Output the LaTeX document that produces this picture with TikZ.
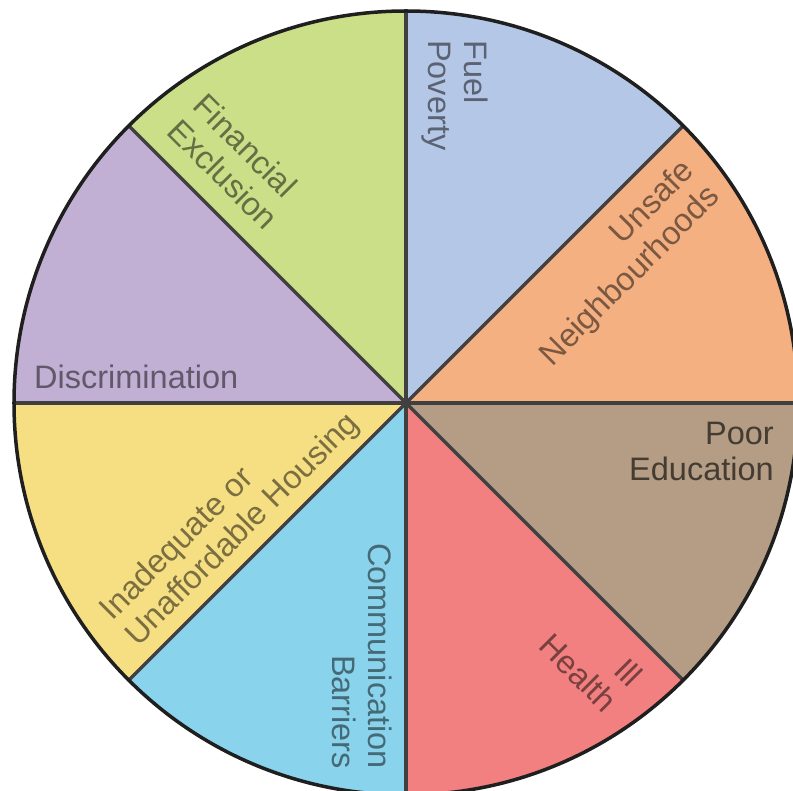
\documentclass[tikz,border=0pt]{standalone}
\usepackage{fontspec}
\setmainfont{Liberation Sans}
\definecolor{unsafeorange}{RGB}{245,176,130}
\definecolor{fuelblue}{RGB}{181,199,230}
\definecolor{financegreen}{RGB}{203,222,136}
\definecolor{discrimpurple}{RGB}{194,176,212}
\definecolor{housingyellow}{RGB}{246,223,130}
\definecolor{commblue}{RGB}{138,211,236}
\definecolor{healthred}{RGB}{242,128,128}
\definecolor{educationtan}{RGB}{180,157,132}
\tikzset{
	spoke/.style = {line width=3.5pt, draw=black!75},
	rim/.style = {line width=3.5pt, draw=black!88},
	factor/.style = {inner sep=0pt, font=\fontsize{32.5}{36}\selectfont, text=#1!50!black}
}

\begin{document}
\begin{tikzpicture}[x=1pt, y=1pt]
	\useasboundingbox (-406,-388) rectangle (387,403);
	\coordinate (hub) at (0,0);
	
	% Slices, counter-clockwise from the east
	\foreach \col [count=\i] in {unsafeorange, fuelblue, financegreen, discrimpurple, housingyellow, commblue, healthred, educationtan}
		\fill[\col] (hub) -- ({(\i-1)*45}:392) arc[start angle={(\i-1)*45}, end angle={\i*45}, radius=392] -- cycle;
	
	% Spokes and rim
	\foreach \a in {0,45,...,315}
		\draw[spoke] (hub) -- (\a:392);
	\draw[rim] (hub) circle[radius=392];
	
	% Labels
	\node (fuel) [factor=fuelblue, rotate=-90, anchor=north west, align=left] at (82,363) {Fuel\\Poverty};
	\node (unsafe) [factor=unsafeorange, rotate=45, anchor=north east, align=right] at (273,247) {Unsafe\\Neighbourhoods};
	\node (education) [factor=educationtan, text=educationtan!38!black, anchor=north east, align=right] at (368,-19) {Poor\\Education};
	\node (health) [factor=healthred, rotate=-45, anchor=north east, align=right] at (240,-269) {Ill\\Health};
	\node (comm) [factor=commblue, rotate=-90, anchor=north east, align=right] at (-14,-366) {Communication\\Barriers};
	\node (housing) [factor=housingyellow, rotate=45, anchor=north west, align=left] at (-310,-202) {Inadequate or\\Unaffordable Housing};
	\node (discrim) [factor=discrimpurple, anchor=north west] at (-372,38) {Discrimination};
	\node (finance) [factor=financegreen, rotate=-45, anchor=north west, align=left] at (-198,312) {Financial\\Exclusion};
	
\end{tikzpicture}
\end{document}
